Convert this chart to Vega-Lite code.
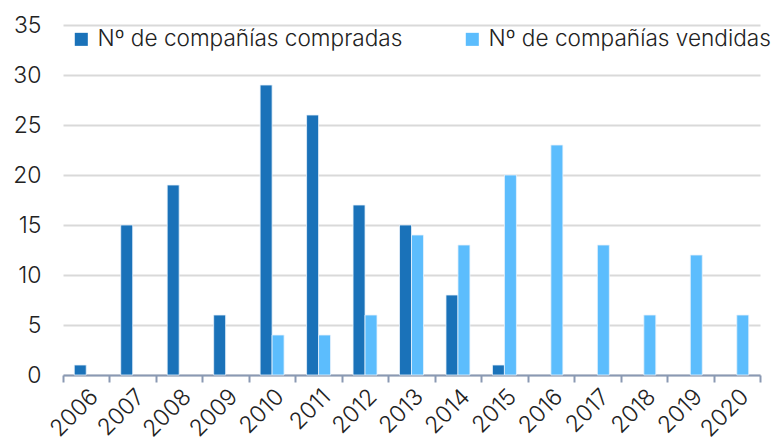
{
  "$schema": "https://vega.github.io/schema/vega-lite/v6.json",
  "autosize": {"type": "none"},
  "width": 697,
  "height": 350,
  "padding": {"left": 63, "top": 25, "right": 16, "bottom": 72},
  "background": "white",
  "config": {
    "view": {"stroke": null},
    "font": "Inter",
    "axis": {"labelFont": "Inter", "labelColor": "#222", "labelFontSize": 23, "labelFontWeight": 300},
    "legend": {"labelFont": "Inter", "labelColor": "#222", "labelFontSize": 22.6, "labelFontWeight": 300, "labelLimit": 400}
  },
  "data": {"values": [
    {"year": "2006", "serie": "Nº de compañías compradas", "value": 1},
    {"year": "2007", "serie": "Nº de compañías compradas", "value": 15},
    {"year": "2008", "serie": "Nº de compañías compradas", "value": 19},
    {"year": "2009", "serie": "Nº de compañías compradas", "value": 6},
    {"year": "2010", "serie": "Nº de compañías compradas", "value": 29},
    {"year": "2011", "serie": "Nº de compañías compradas", "value": 26},
    {"year": "2012", "serie": "Nº de compañías compradas", "value": 17},
    {"year": "2013", "serie": "Nº de compañías compradas", "value": 15},
    {"year": "2014", "serie": "Nº de compañías compradas", "value": 8},
    {"year": "2015", "serie": "Nº de compañías compradas", "value": 1},
    {"year": "2016", "serie": "Nº de compañías compradas", "value": 0},
    {"year": "2017", "serie": "Nº de compañías compradas", "value": 0},
    {"year": "2018", "serie": "Nº de compañías compradas", "value": 0},
    {"year": "2019", "serie": "Nº de compañías compradas", "value": 0},
    {"year": "2020", "serie": "Nº de compañías compradas", "value": 0},
    {"year": "2006", "serie": "Nº de compañías vendidas", "value": 0},
    {"year": "2007", "serie": "Nº de compañías vendidas", "value": 0},
    {"year": "2008", "serie": "Nº de compañías vendidas", "value": 0},
    {"year": "2009", "serie": "Nº de compañías vendidas", "value": 0},
    {"year": "2010", "serie": "Nº de compañías vendidas", "value": 4},
    {"year": "2011", "serie": "Nº de compañías vendidas", "value": 4},
    {"year": "2012", "serie": "Nº de compañías vendidas", "value": 6},
    {"year": "2013", "serie": "Nº de compañías vendidas", "value": 14},
    {"year": "2014", "serie": "Nº de compañías vendidas", "value": 13},
    {"year": "2015", "serie": "Nº de compañías vendidas", "value": 20},
    {"year": "2016", "serie": "Nº de compañías vendidas", "value": 23},
    {"year": "2017", "serie": "Nº de compañías vendidas", "value": 13},
    {"year": "2018", "serie": "Nº de compañías vendidas", "value": 6},
    {"year": "2019", "serie": "Nº de compañías vendidas", "value": 12},
    {"year": "2020", "serie": "Nº de compañías vendidas", "value": 6}
  ]},
  "transform": [{"filter": "datum.value > 0"}],
  "mark": {"type": "bar", "stroke": "#e8f2fb", "strokeWidth": 0.8},
  "encoding": {
    "x": {
      "field": "year", "type": "ordinal", "title": null,
      "scale": {"paddingInner": 0, "paddingOuter": 0},
      "axis": {
        "labelAngle": -45, "labelPadding": 3, "domainColor": "#8a99b3", "domainWidth": 2,
        "tickColor": "#8a99b3", "tickWidth": 2, "tickSize": 7, "tickBand": "extent", "grid": false
      }
    },
    "xOffset": {
      "field": "serie", "type": "nominal",
      "scale": {"domain": ["Nº de compañías compradas", "Nº de compañías vendidas"], "paddingInner": 0, "paddingOuter": 0.94}
    },
    "y": {
      "field": "value", "type": "quantitative", "title": null,
      "scale": {"domain": [0, 35], "nice": false},
      "axis": {
        "values": [0, 5, 10, 15, 20, 25, 30, 35], "domain": false, "ticks": false, "labelPadding": 22,
        "gridColor": "#d9d9d9", "gridWidth": 2
      }
    },
    "color": {
      "field": "serie", "type": "nominal", "title": null,
      "scale": {"domain": ["Nº de compañías compradas", "Nº de compañías vendidas"], "range": ["#1a72b9", "#5cbdfd"]},
      "legend": {
        "orient": "none", "legendX": 7, "legendY": 3, "direction": "horizontal",
        "symbolType": "square", "symbolSize": 170, "symbolStrokeWidth": 0, "columnPadding": 58, "labelOffset": 5
      }
    }
  }
}
